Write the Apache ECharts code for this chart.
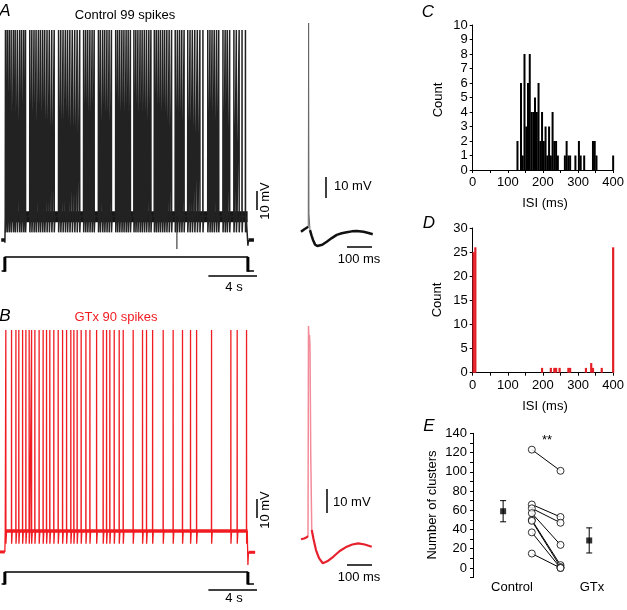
<!DOCTYPE html>
<html><head><meta charset="utf-8">
<script src="https://cdn.jsdelivr.net/npm/echarts@6/dist/echarts.min.js"></script>
<style>html,body{margin:0;padding:0;background:#fff}#c{width:627px;height:610px}</style>
</head><body><div id="c"></div>
<script>
// ---------- DATA ----------
// Panel A: control spike times (s) during 20 s current step (99 spikes)
const spikesA = [0.05,0.20,0.36,0.52,0.70,0.85,1.03,1.22,1.38,1.55,1.70,
  2.05,2.22,2.40,2.57,2.76,2.93,3.11,3.28,3.47,3.66,3.86,4.06,
  4.42,4.60,4.79,4.98,5.16,5.35,5.55,5.75,5.95,6.16,
  6.48,6.65,6.82,7.00,7.18,7.35,
  7.70,7.86,8.05,8.22,8.40,8.58,8.77,
  9.12,9.28,9.45,9.63,9.80,9.98,10.15,10.33,
  10.62,10.78,10.95,11.13,11.30,11.48,11.66,11.85,12.02,
  12.30,12.46,12.63,12.80,12.98,13.15,13.33,13.52,13.72,
  14.02,14.20,14.38,14.56,14.75,
  15.05,15.24,15.43,15.63,15.84,16.05,16.30,
  16.70,16.88,17.05,17.23,17.42,17.60,
  17.95,18.13,18.30,18.50,
  18.85,19.05,19.28,19.52,19.80];
const deepTroughA = [[14.16, -58], [14.16, -75.3]];
// Panel B: GTx spike events (s)
const spikesB = [0.08,0.55,0.91,1.15,1.46,1.73,2.00,2.20,2.47,2.82,3.15,3.43,3.70,4.03,4.39,4.75,5.08,5.43,5.68,5.95,6.28,6.67,7.00,7.55,8.09,8.37,8.64,9.00,9.41,9.74,10.56,11.33,11.66,12.16,13.03,13.85,14.62,15.28,15.78,17.01,18.60,19.12,19.89];
// Insets: averaged spike waveform (ms, mV)
const insetA_base1 = [[0,-58.8],[12,-57.7],[29,-56.4]];
const insetA_spike = [[29,-56.4],[30.4,40.6],[31.8,-50],[36,-58]];
const insetA_base2 = [[36,-58],[42,-60.5],[48,-62.7],[56,-64.8],[65,-65.6],[85,-65],[103,-63.5],[123,-61.8],[143,-60.3],[163,-59.5],[183,-59],[203,-58.6],[223,-58.4],[250,-58.8],[270,-59.4],[287,-60]];
const insetB_base1 = [[0,-60.1],[12,-59.8],[23,-59.3],[28,-58.75]];
const insetB_spike = [[28,-58.75],[30,28.75],[32,22],[34,25],[36,20],[39,-25],[43,-56.25]];
const insetB_base2 = [[43,-56.25],[50,-60],[60,-64.6],[72,-68],[87,-70.1],[105,-69.3],[129,-67.4],[155,-65],[183,-63.2],[205,-62.3],[229,-61.8],[255,-62.3],[283,-63.2]];
// Stimulus step (normalized)
const stepTrace = [[-0.27,0],[0,0],[0,1],[20,1],[20,0],[20.5,0]];
// Panel C histogram (bin centre ms, count)
const isiC   = [127.5,137.5,142.5,147.5,152.5,157.5,162.5,167.5,172.5,177.5,182.5,187.5,192.5,197.5,202.5,207.5,212.5,217.5,222.5,227.5,232.5,237.5,242.5,262.5,267.5,272.5,277.5,292.5,302.5,307.5,317.5,342.5,347.5,352.5,400];
const countC = [2,6,1,8,3,6,8,4,4,5,4,6,2,4,2,3,1,3,1,4,2,2,1,1,2,1,1,1,2,1,1,2,2,1,1];
// Panel D histogram
const isiD   = [2.5,7.5,197.5,222.5,232.5,237.5,247.5,272.5,277.5,322.5,337.5,342.5,367.5,400];
const countD = [25,26,1,1,1,1,1,1,1,1,2,1,1,26];
// Panel E: number of clusters per cell
const clustersControl = [123,66,62,57,50,49,37,15];
const clustersGTx     = [101,53,47,24,3,1,0,0];
const meanControl = [59, 48, 70];   // mean, lower, upper
const meanGTx     = [28.6, 15.6, 41.7];

// ---------- BUILD ----------
const FONT = 'Liberation Sans, Arial, Helvetica, sans-serif';
function buildTrace(spikes, o) {
  const d = [[0, o.pre], [0.003, o.onset], [0.03, o.base]];
  spikes.forEach(ts => {
    d.push([ts - 0.008, o.base], [ts, o.peak], [ts + 0.006, o.trough], [ts + 0.06, o.base]);
  });
  d.push([20, o.base], [20.003, o.offset], [20.05, o.pre]);
  return d;
}
const traceA = buildTrace(spikesA, {pre:-70.5, onset:-72, base:-58, peak:40, trough:-66.5, offset:-73.5});
const traceB = buildTrace(spikesB, {pre:-71.8, onset:-72, base:-60.8, peak:45, trough:-67.5, offset:-78.7});

const hx = (gi, min, max) => ({gridIndex: gi, type: 'value', min, max, show: false});
const grid = [
  {left:0, top:11, width:257.6, height:247},        // 0 A trace
  {left:0, top:250, width:257.6, height:30.1},      // 1 A stim
  {left:301, top:3.3, width:75, height:273},        // 2 A inset
  {left:0, top:301.5, width:257.6, height:266},     // 3 B trace
  {left:0, top:566, width:257.6, height:27},        // 4 B stim
  {left:301, top:275, width:75, height:312},        // 5 B inset
  {left:472.7, top:25, width:144.3, height:145},    // 6 C
  {left:472.7, top:228, width:144.3, height:144.7}, // 7 D
  {left:473, top:433.3, width:144.9, height:144.3}  // 8 E
];
const axLine = {show:true, onZero:false, lineStyle:{color:'#000', width:1}};
const axTick = {show:true, length:3, lineStyle:{color:'#000', width:1}};
const axLab = {color:'#000', fontSize:13, fontFamily:FONT};
const xAxis = [
  hx(0,-0.4,20.8), hx(1,-0.4,20.8), hx(2,0,300), hx(3,-0.4,20.8), hx(4,-0.4,20.8), hx(5,0,300),
  {gridIndex:6, type:'value', min:0, max:400, interval:100, axisLine:axLine, axisTick:axTick,
   minorTick:{show:true, splitNumber:2, length:3, lineStyle:{color:'#000'}}, splitLine:{show:false},
   axisLabel:Object.assign({margin:6}, axLab)},
  {gridIndex:7, type:'value', min:0, max:400, interval:100, axisLine:axLine, axisTick:axTick,
   minorTick:{show:true, splitNumber:2, length:3, lineStyle:{color:'#000'}}, splitLine:{show:false},
   axisLabel:Object.assign({margin:6}, axLab)},
  hx(8,-1.05,4)
];
const yAxis = [
  hx(0,-80,50), hx(1,-0.65,1.5), hx(2,-80,50), hx(3,-80,60), hx(4,-0.75,1.5), hx(5,-80,50),
  {gridIndex:6, type:'value', min:0, max:10, interval:1, axisLine:axLine, axisTick:axTick, splitLine:{show:false},
   axisLabel:Object.assign({margin:5}, axLab)},
  {gridIndex:7, type:'value', min:0, max:30, interval:5, axisLine:axLine, axisTick:axTick, splitLine:{show:false},
   axisLabel:Object.assign({margin:5}, axLab)},
  {gridIndex:8, type:'value', min:-10, max:140, interval:10, axisLine:axLine,
   axisTick:{show:true, length:3, lineStyle:{color:'#000'}}, splitLine:{show:false},
   axisLabel:Object.assign({margin:6, formatter: v => (v >= 0 && v % 20 === 0) ? String(v) : ''}, axLab)}
];
function ln(xi, data, color, width, extra) {
  return Object.assign({type:'line', xAxisIndex:xi, yAxisIndex:xi, data, symbol:'none', silent:true,
    lineStyle:{color, width}, animation:false}, extra || {});
}
const RED = '#f01c22';
const series = [
  // A
  ln(0, [[0.03,-58.3],[19.98,-58.3]], '#161616', 11),
  ln(0, traceA, '#222', 1.5),
  ln(0, deepTroughA, '#1c1c1c', 1),
  ln(0, [[-0.3,-70.5],[0,-70.5]], '#111', 3.5),
  ln(0, [[20.05,-70.5],[20.5,-70.5]], '#111', 3.5),
  ln(0, [[20.75,-44.7],[20.75,-54.7]], '#000', 1.5),
  ln(1, stepTrace, '#000', 1.4),
  ln(1, [[0,-0.05],[0,1]], '#000', 3),
  ln(1, [[20,-0.05],[20,1]], '#000', 3),
  ln(1, [[16.75,-0.357],[20.75,-0.357]], '#000', 1.5),
  ln(2, insetA_spike, '#666', 1),
  ln(2, insetA_base1, '#111', 2.5),
  ln(2, insetA_base2, '#111', 2.5),
  ln(2, [[100,-32.7],[100,-42.7]], '#000', 1.5),
  ln(2, [[184,-66],[284,-66]], '#000', 1.5),
  // B
  ln(3, [[0.05,-60.8],[19.98,-60.8]], RED, 3.5),
  ln(3, traceB, RED, 1.3),
  ln(3, [[-0.4,-71.8],[0,-71.8]], RED, 3),
  ln(3, [[20.05,-72],[20.6,-72]], RED, 3),
  ln(3, [[20.75,-43.9],[20.75,-53.9]], '#000', 1.5),
  ln(4, stepTrace, '#000', 1.4),
  ln(4, [[0,-0.05],[0,1]], '#000', 3),
  ln(4, [[20,-0.05],[20,1]], '#000', 3),
  ln(4, [[16.75,-0.5],[20.75,-0.5]], '#000', 1.5),
  ln(5, insetB_spike, '#f28c9a', 1.5),
  ln(5, insetB_base1, '#e6202c', 2.2),
  ln(5, insetB_base2, '#e6202c', 2.2),
  ln(5, [[104,-39.2],[104,-49.2]], '#000', 1.5),
  ln(5, [[184,-70.8],[284,-70.8]], '#000', 1.5),
  // C
  {type:'bar', xAxisIndex:6, yAxisIndex:6, data: isiC.map((x,i)=>[x,countC[i]]), barWidth:2,
   itemStyle:{color:'#000'}, silent:true, animation:false},
  // D
  {type:'bar', xAxisIndex:7, yAxisIndex:7, data: isiD.map((x,i)=>[x,countD[i]]), barWidth:2.2,
   itemStyle:{color:'#e41e26'}, silent:true, animation:false},
];
// E pairs
clustersControl.forEach((c,i) => series.push(ln(8, [[1,c],[2,clustersGTx[i]]], '#000', 1)));
series.push({type:'scatter', xAxisIndex:8, yAxisIndex:8, symbol:'circle', symbolSize:7, silent:true, animation:false, z:5,
  itemStyle:{color:'#fff', borderColor:'#000', borderWidth:1},
  data: clustersControl.map(v=>[1,v]).concat(clustersGTx.map(v=>[2,v]))});
series.push({type:'custom', xAxisIndex:8, yAxisIndex:8, silent:true, animation:false, z:4,
  data: [[0].concat(meanControl), [3].concat(meanGTx)],
  renderItem: function(params, api) {
    const x = api.value(0), lo = api.value(2), hi = api.value(3);
    const a = api.coord([x, hi]), b = api.coord([x, lo]);
    const st = {stroke:'#000', lineWidth:1};
    return {type:'group', children:[
      {type:'line', shape:{x1:a[0], y1:a[1], x2:b[0], y2:b[1]}, style:st},
      {type:'line', shape:{x1:a[0]-3, y1:a[1], x2:a[0]+3, y2:a[1]}, style:st},
      {type:'line', shape:{x1:b[0]-3, y1:b[1], x2:b[0]+3, y2:b[1]}, style:st}
    ]};
  }});
series.push({type:'scatter', xAxisIndex:8, yAxisIndex:8, symbol:'rect', symbolSize:6, silent:true, animation:false, z:6,
  itemStyle:{color:'#000'}, data:[[0, meanControl[0]], [3, meanGTx[0]]]});

function T(x, y, text, o) {
  o = o || {};
  return {type:'text', x, y, rotation:o.rot || 0, silent:true,
    style:{text, font:(o.style||'') + ' ' + (o.size||13) + 'px ' + FONT, fill:o.color||'#000',
      textAlign:o.align||'center', textVerticalAlign:'middle', align:o.align||'center', verticalAlign:'middle'}};
}
const R = Math.PI/2;
const graphic = [
  T(5, 11, 'A', {style:'italic', size:17}),
  T(5, 316, 'B', {style:'italic', size:17}),
  T(428, 12, 'C', {style:'italic', size:17}),
  T(429, 223, 'D', {style:'italic', size:17}),
  T(429, 426, 'E', {style:'italic', size:17}),
  T(125, 15, 'Control 99 spikes'),
  T(116, 317, 'GTx 90 spikes', {color:RED}),
  T(234, 287, '4 s'),
  T(234, 598, '4 s'),
  T(265, 201, '10 mV', {rot:R}),
  T(265, 510, '10 mV', {rot:R}),
  T(334, 186, '10 mV', {align:'left'}),
  T(333, 502, '10 mV', {align:'left'}),
  T(359, 259, '100 ms'),
  T(359, 577, '100 ms'),
  T(438, 100, 'Count', {rot:R}),
  T(437, 300, 'Count', {rot:R}),
  T(545, 203, 'ISI (ms)'),
  T(545, 406, 'ISI (ms)'),
  T(432, 505, 'Number of clusters', {rot:R}),
  T(547, 440, '**'),
  T(512, 587, 'Control'),
  T(592, 587, 'GTx')
];

const chart = echarts.init(document.getElementById('c'), null, {renderer:'canvas'});
chart.setOption({backgroundColor:'#fff', animation:false, grid, xAxis, yAxis, series, graphic});
</script></body></html>
